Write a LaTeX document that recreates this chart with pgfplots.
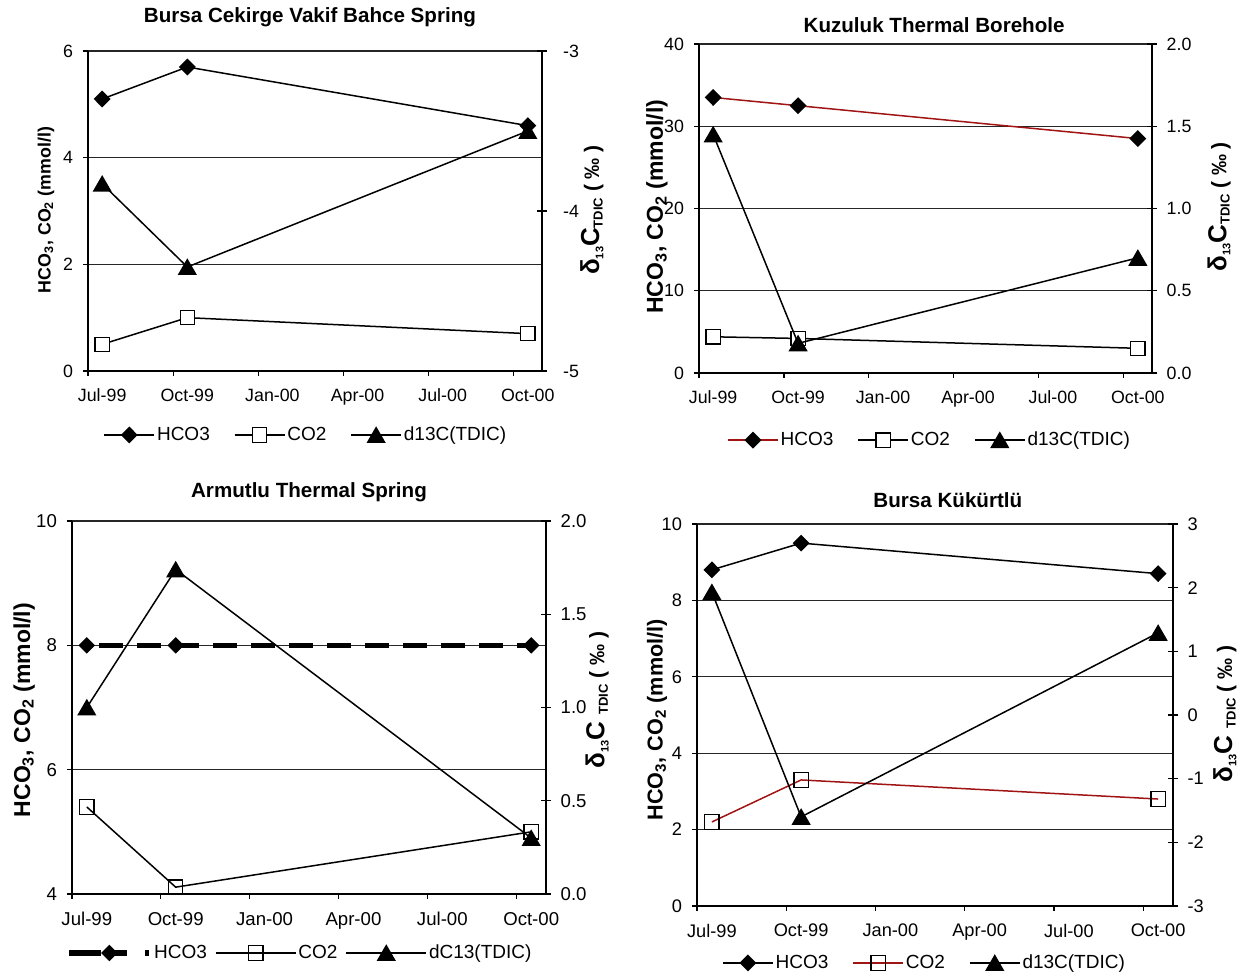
\documentclass[border=0pt]{standalone}
\usepackage{fontspec}
\setmainfont{Liberation Sans}
\usepackage{pgfplots}
\pgfplotsset{compat=1.18}
\definecolor{dred}{RGB}{160,20,20}

\newcommand{\dA}{δ\raisebox{-0.3ex}{\fontsize{5.5}{6}\selectfont 13}C\raisebox{-0.25ex}{\fontsize{6.5}{7}\selectfont TDIC}\fontsize{10.5}{12}\selectfont\ ( ‰ )}
\newcommand{\dB}{δ\raisebox{-0.3ex}{\fontsize{5.5}{6}\selectfont 13}C\ \raisebox{-0.25ex}{\fontsize{6.5}{7}\selectfont TDIC}\fontsize{10.5}{12}\selectfont\ ( ‰ )}
\newcommand{\hlab}{HCO\textsubscript{3}, CO\textsubscript{2} (mmol/l)}

\pgfplotsset{
 base/.style={scale only axis, xmin=0, xmax=16, clip=false,
   axis line style={line width=0.65pt, black},
   tick style={line width=0.6pt, black},
   tick label style={font=\fontsize{8.9}{10}\selectfont},
   /pgf/number format/assume math mode=true,
 },
 leftax/.style={base, axis x line*=bottom, axis y line*=left, tick align=outside, major tick length=2.5pt,
   ymajorgrids, grid style={black!85, line width=0.6pt},
   xtick={0,3,6,9,12,15}, xticklabels={,,,,,},
   extra x ticks={0.5,3.5,6.5,9.5,12.5,15.5},
   extra x tick labels={Jul-99,Oct-99,Jan-00,Apr-00,Jul-00,Oct-00},
   extra x tick style={major tick length=0pt, xticklabel style={yshift=-5.5pt}},
   yticklabel style={xshift=-1.5pt},
   every axis title shift=0pt,
   title style={font=\bfseries\fontsize{10.3}{12}\selectfont, anchor=center},
   ylabel style={anchor=center, font=\bfseries\fontsize{11.5}{12}\selectfont},
 },
 rightax/.style={base, axis x line=none, axis y line*=right, ytick align=center, major tick length=5pt,
   ylabel style={anchor=center, font=\bfseries\fontsize{13}{14}\selectfont},
   yticklabel style={xshift=1.3pt},
   legend style={draw=none, fill=none, anchor=center, legend columns=3, font=\fontsize{9.5}{11}\selectfont,
     /tikz/every even column/.append style={column sep=11pt}, nodes={inner sep=1pt}},
   legend image code/.code={\draw[mark repeat=2,mark phase=2,##1] plot coordinates {(0pt,0pt) (12.5pt,0pt) (25pt,0pt)};},
 },
 longlegend/.style={legend image code/.code={\draw[mark repeat=2,mark phase=2,##1] plot coordinates {(0pt,0pt) (20pt,0pt) (40pt,0pt)};}},
 onedec/.style={yticklabel style={/pgf/number format/.cd, fixed, fixed zerofill, precision=1}},
 hco/.style={black, line width=0.75pt, mark=diamond*, mark size=3.7pt, mark options={solid, fill=black, draw=black, xscale=1.33}},
 hcored/.style={dred, line width=0.75pt, mark=diamond*, mark size=3.7pt, mark options={solid, fill=black, draw=black, xscale=1.33}},
 hcodash/.style={black, line width=2.8pt, dash pattern=on 12pt off 7pt, dash phase=13pt, mark=diamond*, mark size=3.7pt, mark options={solid, fill=black, draw=black, line width=0.6pt, xscale=1.33}},
 hcodashleg/.style={black, line width=2.8pt, dash pattern=on 16pt off 5pt on 8pt off 9pt on 3pt off 20pt, mark=diamond*, mark size=3.7pt, mark options={solid, fill=black, draw=black, line width=0.6pt, xscale=1.33}},
 co2/.style={black, line width=0.75pt, mark=square*, mark size=3.6pt, mark options={solid, fill=white, draw=black, line width=0.6pt}},
 co2open/.style={black, line width=0.75pt, mark=square, mark size=3.6pt, mark options={solid, draw=black, line width=0.6pt}},
 co2red/.style={dred, line width=0.75pt, mark=square, mark size=3.6pt, mark options={solid, draw=black, line width=0.6pt}},
 dtc/.style={black, line width=0.75pt, mark=triangle*, mark size=4.8pt, mark options={solid, fill=black, draw=black, yshift=-1.2pt}},
}

\begin{document}
\begin{tikzpicture}
\useasboundingbox (0pt,0pt) rectangle (618.5pt,489.5pt);

% ---------- Panel 1 ----------
\begin{axis}[leftax, at={(44pt,304pt)}, anchor=south west, width=227pt, height=160pt,
  ymin=0, ymax=6, ytick={0,2,4,6},
  title={Bursa Cekirge Vakif Bahce Spring}, title style={at={(axis description cs:0.489,1.106)}},
  ylabel={\hlab}, ylabel style={at={(axis description cs:-0.0925,0.503)}, font=\bfseries\fontsize{8.9}{10}\selectfont}]
\addplot[hco] coordinates {(0.5,5.1) (3.5,5.7) (15.5,4.6)};
\addplot[co2] coordinates {(0.5,0.5) (3.5,1.0) (15.5,0.7)};
\end{axis}
\begin{axis}[rightax, at={(44pt,304pt)}, anchor=south west, width=227pt, height=160pt,
  ymin=-5, ymax=-3, ytick={-5,-4,-3}, yticklabel style={xshift=3.2pt},
  ylabel={\dA}, ylabel style={at={(axis description cs:1.11,0.503)}},
  legend style={at={(0.48,-0.2)}}]
\addlegendimage{hco}\addlegendentry{HCO3}
\addlegendimage{co2}\addlegendentry{CO2}
\addplot[dtc] coordinates {(0.5,-3.83) (3.5,-4.35) (15.5,-3.5)};
\addlegendentry{d13C(TDIC)}
\end{axis}

% ---------- Panel 2 ----------
\begin{axis}[leftax, at={(349.5pt,303pt)}, anchor=south west, width=226.5pt, height=164.5pt,
  ymin=0, ymax=40, ytick={0,10,20,30,40},
  title={Kuzuluk Thermal Borehole}, title style={at={(axis description cs:0.519,1.058)}},
  ylabel={\hlab}, ylabel style={at={(axis description cs:-0.0927,0.505)}}]
\addplot[hcored] coordinates {(0.5,33.5) (3.5,32.5) (15.5,28.5)};
\addplot[co2] coordinates {(0.5,4.4) (3.5,4.2) (15.5,3.0)};
\end{axis}
\begin{axis}[rightax, onedec, at={(349.5pt,303pt)}, anchor=south west, width=226.5pt, height=164.5pt,
  ymin=0, ymax=2, ytick={0,0.5,1,1.5,2},
  ylabel={\dA}, ylabel style={at={(axis description cs:1.148,0.505)}},
  legend style={at={(0.509,-0.204)}}]
\addlegendimage{hcored}\addlegendentry{HCO3}
\addlegendimage{co2}\addlegendentry{CO2}
\addplot[dtc] coordinates {(0.5,1.45) (3.5,0.18) (15.5,0.70)};
\addlegendentry{d13C(TDIC)}
\end{axis}

% ---------- Panel 3 ----------
\begin{axis}[leftax, at={(36pt,42.5pt)}, anchor=south west, width=237pt, height=186.5pt,
  ymin=4, ymax=10, ytick={4,6,8,10},
  tick label style={font=\fontsize{9.3}{10}\selectfont},
  title={Armutlu Thermal Spring}, title style={at={(axis description cs:0.5,1.078)}},
  ylabel={\hlab}, ylabel style={at={(axis description cs:-0.101,0.493)}}]
\addplot[hcodash] coordinates {(0.5,8) (3.5,8) (15.5,8)};
\addplot[co2open] coordinates {(0.5,5.4) (3.5,4.11) (15.5,5.0)};
\end{axis}
\begin{axis}[rightax, longlegend, onedec, at={(36pt,42.5pt)}, anchor=south west, width=237pt, height=186.5pt,
  ymin=0, ymax=2, ytick={0,0.5,1,1.5,2},
  tick label style={font=\fontsize{9.3}{10}\selectfont},
  ylabel={\dB}, ylabel style={at={(axis description cs:1.108,0.52)}},
  legend style={at={(0.481,-0.158)}, /tikz/every even column/.append style={column sep=3pt}}]
\addlegendimage{hcodashleg}\addlegendentry{HCO3}
\addlegendimage{co2open}\addlegendentry{CO2}
\addplot[dtc] coordinates {(0.5,1.0) (3.5,1.74) (15.5,0.30)};
\addlegendentry{dC13(TDIC)}
\end{axis}

% ---------- Panel 4 ----------
\begin{axis}[leftax, at={(348.5pt,36.5pt)}, anchor=south west, width=238pt, height=191pt,
  ymin=0, ymax=10, ytick={0,2,4,6,8,10},
  tick label style={font=\fontsize{9.1}{10}\selectfont},
  title={Bursa Kükürtlü}, title style={at={(axis description cs:0.527,1.063)}},
  ylabel={\hlab}, ylabel style={at={(axis description cs:-0.084,0.487)}, font=\bfseries\fontsize{10.8}{12}\selectfont}]
\addplot[hco] coordinates {(0.5,8.8) (3.5,9.5) (15.5,8.7)};
\addplot[co2red] coordinates {(0.5,2.2) (3.5,3.3) (15.5,2.8)};
\end{axis}
\begin{axis}[rightax, at={(348.5pt,36.5pt)}, anchor=south west, width=238pt, height=191pt,
  ymin=-3, ymax=3, ytick={-3,-2,-1,0,1,2,3},
  tick label style={font=\fontsize{9.1}{10}\selectfont},
  ylabel={\dB}, ylabel style={at={(axis description cs:1.109,0.503)}},
  legend style={at={(0.478,-0.149)}}]
\addlegendimage{hco}\addlegendentry{HCO3}
\addlegendimage{co2red}\addlegendentry{CO2}
\addplot[dtc] coordinates {(0.5,1.93) (3.5,-1.6) (15.5,1.29)};
\addlegendentry{d13C(TDIC)}
\end{axis}
\end{tikzpicture}
\end{document}
